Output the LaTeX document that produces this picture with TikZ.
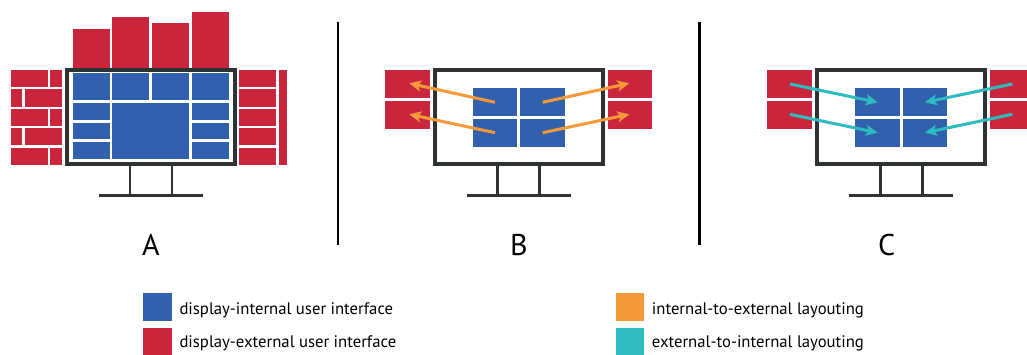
\documentclass[tikz,border=0pt]{standalone}
\usepackage{fontspec}
\usetikzlibrary{arrows.meta}
\newfontfamily\uifont{PT Sans}
\definecolor{uiblue}{HTML}{3160AC}
\definecolor{uired}{HTML}{C9263E}
\definecolor{uiorange}{HTML}{F5993A}
\definecolor{uiteal}{HTML}{2EBBC0}
\definecolor{uiframe}{HTML}{2F3235}
\tikzset{
  intui/.style={fill=uiblue},
  extui/.style={fill=uired},
  frameline/.style={draw=uiframe,line width=4pt,fill=white},
  standline/.style={draw=uiframe,line width=2.6pt},
  divider/.style={draw=black,line width=2.5pt},
  outarrow/.style={draw=uiorange,line width=3pt,-{Stealth[length=12pt,width=11pt,inset=3pt]}},
  inarrow/.style={draw=uiteal,line width=3pt,-{Stealth[length=12pt,width=11pt,inset=3pt]}},
  panellabel/.style={font=\uifont\fontsize{30}{30}\selectfont,anchor=base,inner sep=0pt},
  legendtext/.style={font=\uifont\fontsize{16.7}{16.7}\selectfont,anchor=base west,inner sep=0pt},
}
\newcommand\drawmonitor[1]{%
  \draw[frameline] ({#1-84},70) rectangle ({#1+84},164);
  \draw[standline] ({#1-21},166) -- ({#1-21},195.7);
  \draw[standline] ({#1+21},166) -- ({#1+21},195.7);
  \draw[standline] ({#1-52},195.7) -- ({#1+52},195.7);
}
\newcommand\fourtiles[1]{%
  \fill[intui] ({#1-46},88.3) rectangle ({#1-1.35},116.3);
  \fill[intui] ({#1+1.35},88.3) rectangle ({#1+46},116.3);
  \fill[intui] ({#1-46},118.7) rectangle ({#1-1.35},146.7);
  \fill[intui] ({#1+1.35},118.7) rectangle ({#1+46},146.7);
}
\begin{document}
\begin{tikzpicture}[x=1pt,y=-1pt]
\useasboundingbox (0,0) rectangle (1027,354);

% ---------------- Panel A ----------------
% top bars
\fill[extui] (72.7,29) rectangle (109.7,70);
\fill[extui] (112.4,17.3) rectangle (149.4,70);
\fill[extui] (152.1,23.3) rectangle (189.1,70);
\fill[extui] (191.8,12) rectangle (228.8,70);
% left bricks
\foreach \ya/\yb [count=\i] in {70/87.3,89.3/106.7,108.7/126,128/145.3,148/164.7}{
  \ifodd\i
    \fill[extui] (11,\ya) rectangle (47.7,\yb);
    \fill[extui] (50.3,\ya) rectangle (61.7,\yb);
  \else
    \fill[extui] (11,\ya) rectangle (22,\yb);
    \fill[extui] (25,\ya) rectangle (61.7,\yb);
  \fi
  \fill[extui] (239.3,\ya) rectangle (276,\yb);
}
\fill[extui] (278.7,70) rectangle (286.7,164.7);
\drawmonitor{151}
% tiles
\foreach \xa/\xb in {72.7/109.7,112.4/149.4,152.1/189.1,191.8/228.8}{
  \fill[intui] (\xa,72.7) rectangle (\xb,100);
}
\foreach \ya/\yb in {103.3/120,122.7/139.3,142.3/159.3}{
  \fill[intui] (72.7,\ya) rectangle (109.7,\yb);
  \fill[intui] (191.8,\ya) rectangle (228.8,\yb);
}
\fill[intui] (112.4,103.3) rectangle (189.1,159.3);
\node[panellabel] (labA) at (151,255) {A};

% dividers
\coordinate (d1t) at (338,21.7); \coordinate (d1b) at (338,245);
\coordinate (d2t) at (699.3,21.7); \coordinate (d2b) at (699.3,245);
\draw[divider] (d1t) -- (d1b);
\draw[divider] (d2t) -- (d2b);

% ---------------- Panel B ----------------
\fill[extui] (385,70) rectangle (430,98.3);
\fill[extui] (385,100.7) rectangle (430,129);
\fill[extui] (608,70) rectangle (652.3,98.3);
\fill[extui] (608,100.7) rectangle (652.3,129);
\drawmonitor{518.7}
\fourtiles{518.7}
\coordinate (b1s) at (495,102.3);   \coordinate (b1e) at (409.3,83.3);
\coordinate (b2s) at (495,132.7);   \coordinate (b2e) at (409.3,114.3);
\coordinate (b3s) at (542.7,102.3); \coordinate (b3e) at (629.3,83.3);
\coordinate (b4s) at (542.7,132.7); \coordinate (b4e) at (629.3,114.3);
\draw[outarrow] (b1s) -- (b1e);
\draw[outarrow] (b2s) -- (b2e);
\draw[outarrow] (b3s) -- (b3e);
\draw[outarrow] (b4s) -- (b4e);
\node[panellabel] (labB) at (519,255) {B};

% ---------------- Panel C ----------------
\fill[extui] (767.3,70) rectangle (812.3,98.3);
\fill[extui] (767.3,100.7) rectangle (812.3,129);
\fill[extui] (989.7,70) rectangle (1034.7,98.3);
\fill[extui] (989.7,100.7) rectangle (1034.7,129);
\drawmonitor{901.2}
\fourtiles{901.2}
\coordinate (c1s) at (790,84);      \coordinate (c1e) at (877.7,102.3);
\coordinate (c2s) at (790,114.3);   \coordinate (c2e) at (877.7,132.7);
\coordinate (c3s) at (1012.3,84);   \coordinate (c3e) at (925,102.3);
\coordinate (c4s) at (1012.3,114.3);\coordinate (c4e) at (925,132.7);
\draw[inarrow] (c1s) -- (c1e);
\draw[inarrow] (c2s) -- (c2e);
\draw[inarrow] (c3s) -- (c3e);
\draw[inarrow] (c4s) -- (c4e);
\node[panellabel] (labC) at (886.7,255) {C};

% ---------------- Legend ----------------
\fill[intui] (143.3,293.3) rectangle (171.7,321);
\fill[extui] (143.3,328.3) rectangle (171.7,356);
\fill[uiorange] (616,293.3) rectangle (644,321);
\fill[uiteal] (616,328.3) rectangle (644,356);
\node[legendtext] (l1) at (179.3,314.3) {display-internal user interface};
\node[legendtext] (l2) at (179.3,347.7) {display-external user interface};
\node[legendtext] (l3) at (651.7,314.3) {internal-to-external layouting};
\node[legendtext] (l4) at (651.7,347.7) {external-to-internal layouting};
\end{tikzpicture}
\end{document}
